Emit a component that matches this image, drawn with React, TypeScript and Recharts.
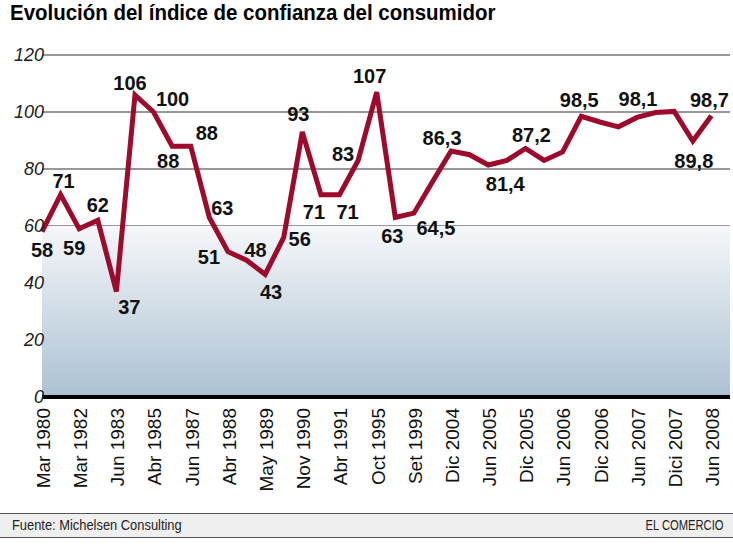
import { LineChart, Line, XAxis, YAxis, CartesianGrid, ReferenceArea, ReferenceLine } from 'recharts'

// Índice de confianza del consumidor (Michelsen Consulting)
const indexValues = [
  58, 71, 59, 62, 37, 106, 100, 88, 88, 63, 51, 48, 43, 56, 93, 71, 71, 83, 107, 63,
  64.5, 75.5, 86.3, 85, 81.4, 83, 87.2, 83, 86, 98.5, 96.5, 94.8, 98.1, 99.8, 100.2, 89.8, 98.7,
]

// one label for every second period
const tickLabels = [
  'Mar 1980', 'Mar 1982', 'Jun 1983', 'Abr 1985', 'Jun 1987', 'Abr 1988', 'May 1989',
  'Nov 1990', 'Abr 1991', 'Oct 1995', 'Set 1999', 'Dic 2004', 'Jun 2005', 'Dic 2005',
  'Jun 2006', 'Dic 2006', 'Jun 2007', 'Dici 2007', 'Jun 2008',
]

const yTicks = [0, 20, 40, 60, 80, 100, 120]

// where each value label sits relative to its point (dx, dy of the text centre)
const labelOffsets: Record<number, [number, number]> = {
  0: [0, 18], 1: [3, -14], 2: [-5, 19], 3: [0, -16], 4: [13, 15], 5: [-5, -12],
  6: [19, -13], 7: [-4, 15], 8: [16, -13], 9: [13, -10], 10: [-19, 5], 11: [9, -10],
  12: [6, 17], 13: [16, 1], 14: [-4, -18], 15: [-7, 17], 16: [8, 17], 17: [-15, -7],
  18: [-7, -16], 19: [-3, 18], 20: [22, 15], 22: [-9, -13], 24: [17, 19], 26: [6, -14],
  29: [-2, -16], 32: [1, -19], 35: [1, 20], 36: [-2, -16],
}

const data = indexValues.map((v, i) => ({ i, value: v }))
const xTicks = indexValues.map((_, i) => i).filter((i) => i % 2 === 0)

const LINE_RED = '#9e0a2c'

const ValueLabel = (props: any) => {
  const { x, y, index, value } = props
  const off = labelOffsets[index]
  if (!off) return null
  return (
    <text
      x={x + off[0]}
      y={y + off[1]}
      dy="0.36em"
      textAnchor="middle"
      fontFamily="'Liberation Sans', Arial, sans-serif"
      fontWeight="bold"
      fontSize={20}
      fill="#111"
    >
      {String(value).replace('.', ',')}
    </text>
  )
}

const XTick = (props: any) => {
  const { x, y, payload } = props
  const label = tickLabels[payload.value / 2] ?? ''
  return (
    <text
      x={x + 1}
      y={y + 3}
      dy="0.36em"
      textAnchor="end"
      transform={`rotate(-90, ${x + 1}, ${y + 3})`}
      fontFamily="'Liberation Sans', Arial, sans-serif"
      fontSize={19}
      fill="#111"
    >
      {label}
    </text>
  )
}

const YTick = (props: any) => {
  const { y, payload } = props
  return (
    <text
      x={44}
      y={y}
      dy="0.36em"
      textAnchor="end"
      fontFamily="'Liberation Sans', Arial, sans-serif"
      fontStyle="italic"
      fontSize={18}
      fill="#222"
    >
      {payload.value}
    </text>
  )
}

const App = () => {
  return (
    <div style={{ position: 'absolute', left: 0, top: 0, width: 733, height: 550, background: '#fff', overflow: 'hidden' }}>
      <div
        style={{
          position: 'absolute',
          left: 10,
          top: 1,
          fontFamily: "'Liberation Sans', Arial, sans-serif",
          fontWeight: 'bold',
          fontSize: 22,
          lineHeight: '24px',
          color: '#000',
          whiteSpace: 'nowrap',
          transform: 'scaleX(0.93)',
          transformOrigin: 'left top',
        }}
      >
        Evolución del índice de confianza del consumidor
      </div>

      <div style={{ position: 'absolute', left: 0, top: 0 }}>
        <LineChart width={733} height={500} data={data} margin={{ top: 55, right: 3, left: 0, bottom: 0 }}>
          <defs>
            <linearGradient id="bandFill" x1="0" y1="0" x2="0" y2="1">
              <stop offset="0%" stopColor="#f5f7f9" />
              <stop offset="100%" stopColor="#abc1d3" />
            </linearGradient>
          </defs>
          <ReferenceArea y1={0} y2={60} fill="url(#bandFill)" fillOpacity={1} stroke="none" />
          <CartesianGrid vertical={false} stroke="#333" strokeWidth={1.2} />
          <ReferenceLine y={0} stroke="#000" strokeWidth={4} />
          <XAxis
            dataKey="i"
            type="number"
            domain={[0, indexValues.length]}
            ticks={xTicks}
            interval={0}
            height={103}
            axisLine={false}
            tickLine={false}
            tick={<XTick />}
          />
          <YAxis
            width={42}
            domain={[0, 120]}
            ticks={yTicks}
            axisLine={false}
            tickLine={false}
            tick={<YTick />}
          />
          <Line
            type="linear"
            dataKey="value"
            stroke={LINE_RED}
            strokeWidth={5}
            strokeLinejoin="miter"
            dot={false}
            activeDot={false}
            isAnimationActive={false}
            label={<ValueLabel />}
          />
        </LineChart>
      </div>

      <div
        style={{
          position: 'absolute',
          left: 0,
          top: 513,
          width: 733,
          height: 23,
          background: '#efefef',
          borderTop: '1.5px solid #555',
          borderBottom: '1.5px solid #555',
          fontFamily: "'Liberation Sans', Arial, sans-serif",
          fontSize: 14,
          lineHeight: '23px',
          color: '#222',
        }}
      >
        <span style={{ position: 'absolute', left: 12, transform: 'scaleX(0.92)', transformOrigin: 'left center' }}>
          Fuente: Michelsen Consulting
        </span>
        <span style={{ position: 'absolute', right: 10, transform: 'scaleX(0.8)', transformOrigin: 'right center' }}>
          EL COMERCIO
        </span>
      </div>
    </div>
  )
}

export default App
